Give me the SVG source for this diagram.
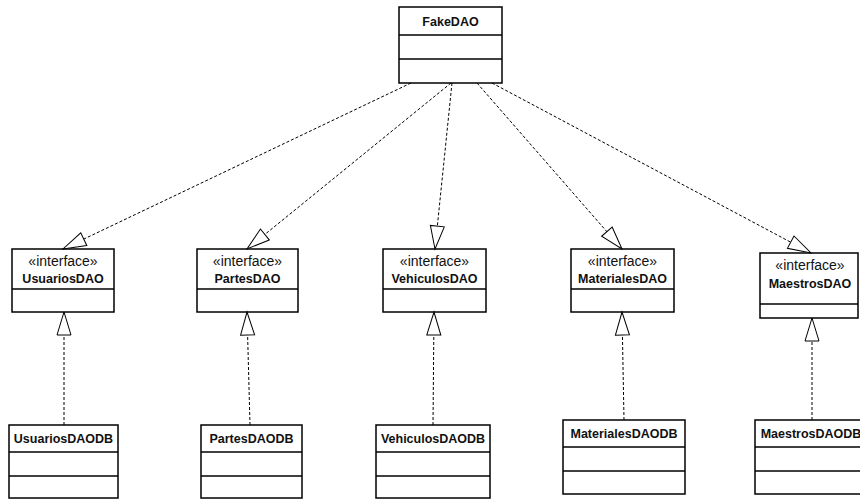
<svg xmlns="http://www.w3.org/2000/svg" width="860" height="500" viewBox="0 0 860 500">
<style>
  .box { fill: white; stroke: black; stroke-width: 1.5; }
  .div { stroke: black; stroke-width: 1.5; }
  .name { font-family: "Liberation Sans", Arial, sans-serif; font-weight: bold; font-size: 12.5px; text-anchor: middle; fill: #111; }
  .st { font-family: "Liberation Sans", Arial, sans-serif; font-size: 14px; text-anchor: middle; fill: #111; }
  .dep { fill: none; stroke: black; stroke-width: 1; stroke-dasharray: 3 2; marker-end: url(#tri); }
</style>
<defs>
  <marker id="tri" viewBox="-2 -9 27 18" refX="23" refY="0" markerWidth="27" markerHeight="18" markerUnits="userSpaceOnUse" orient="auto">
    <path d="M0,-7 L23,0 L0,7 Z" fill="white" stroke="black" stroke-width="1" stroke-dasharray="none"/>
  </marker>
</defs>
<rect width="860" height="500" fill="white"/>

<g id="FakeDAO">
  <rect class="box" x="399" y="7" width="103" height="76"/>
  <line class="div" x1="399" y1="35" x2="502" y2="35"/>
  <line class="div" x1="399" y1="59" x2="502" y2="59"/>
  <text class="name" x="450.5" y="26" font-size="13">FakeDAO</text>
</g>

<g id="UsuariosDAO">
  <rect class="box" x="12" y="249" width="102" height="63"/>
  <line class="div" x1="12" y1="289" x2="114" y2="289"/>
  <text class="st" x="63" y="266">«interface»</text>
  <text class="name" x="63" y="283">UsuariosDAO</text>
</g>
<g id="PartesDAO">
  <rect class="box" x="197" y="249" width="101" height="63"/>
  <line class="div" x1="197" y1="289" x2="298" y2="289"/>
  <text class="st" x="247.5" y="266">«interface»</text>
  <text class="name" x="247.5" y="283">PartesDAO</text>
</g>
<g id="VehiculosDAO">
  <rect class="box" x="383" y="249" width="103" height="63"/>
  <line class="div" x1="383" y1="289" x2="486" y2="289"/>
  <text class="st" x="434.5" y="266">«interface»</text>
  <text class="name" x="434.5" y="283">VehiculosDAO</text>
</g>
<g id="MaterialesDAO">
  <rect class="box" x="571" y="249" width="103" height="63"/>
  <line class="div" x1="571" y1="289" x2="674" y2="289"/>
  <text class="st" x="622.5" y="266">«interface»</text>
  <text class="name" x="622.5" y="283">MaterialesDAO</text>
</g>
<g id="MaestrosDAO">
  <rect class="box" x="760" y="253" width="98" height="65"/>
  <line class="div" x1="760" y1="304" x2="858" y2="304"/>
  <text class="st" x="810" y="270">«interface»</text>
  <text class="name" x="810" y="288">MaestrosDAO</text>
</g>

<g id="UsuariosDAODB">
  <rect class="box" x="9" y="425" width="109" height="73"/>
  <line class="div" x1="9" y1="452" x2="118" y2="452"/>
  <line class="div" x1="9" y1="476" x2="118" y2="476"/>
  <text class="name" x="63.5" y="443">UsuariosDAODB</text>
</g>
<g id="PartesDAODB">
  <rect class="box" x="201" y="425" width="101" height="73"/>
  <line class="div" x1="201" y1="452" x2="302" y2="452"/>
  <line class="div" x1="201" y1="476" x2="302" y2="476"/>
  <text class="name" x="251.5" y="443">PartesDAODB</text>
</g>
<g id="VehiculosDAODB">
  <rect class="box" x="376" y="425" width="114" height="73"/>
  <line class="div" x1="376" y1="452" x2="490" y2="452"/>
  <line class="div" x1="376" y1="476" x2="490" y2="476"/>
  <text class="name" x="433" y="443">VehiculosDAODB</text>
</g>
<g id="MaterialesDAODB">
  <rect class="box" x="563" y="420" width="122" height="74"/>
  <line class="div" x1="563" y1="447" x2="685" y2="447"/>
  <line class="div" x1="563" y1="471" x2="685" y2="471"/>
  <text class="name" x="624" y="438" font-size="13">MaterialesDAODB</text>
</g>
<g id="MaestrosDAODB">
  <rect class="box" x="755" y="420" width="112" height="74"/>
  <line class="div" x1="755" y1="447" x2="867" y2="447"/>
  <line class="div" x1="755" y1="471" x2="867" y2="471"/>
  <text class="name" x="811" y="438" font-size="13">MaestrosDAODB</text>
</g>

<g id="connectors">
  <path class="dep" d="M411,83 L63,249"/>
  <path class="dep" d="M451,83 L247,249"/>
  <path class="dep" d="M452,83 L435,249"/>
  <path class="dep" d="M477,83 L622,249"/>
  <path class="dep" d="M492,83 L811,253"/>
  <path class="dep" d="M64,425 L64,312"/>
  <path class="dep" d="M250,425 L247,312"/>
  <path class="dep" d="M433,425 L434,312"/>
  <path class="dep" d="M624,420 L622,312"/>
  <path class="dep" d="M812,420 L812,318"/>
</g>
</svg>
